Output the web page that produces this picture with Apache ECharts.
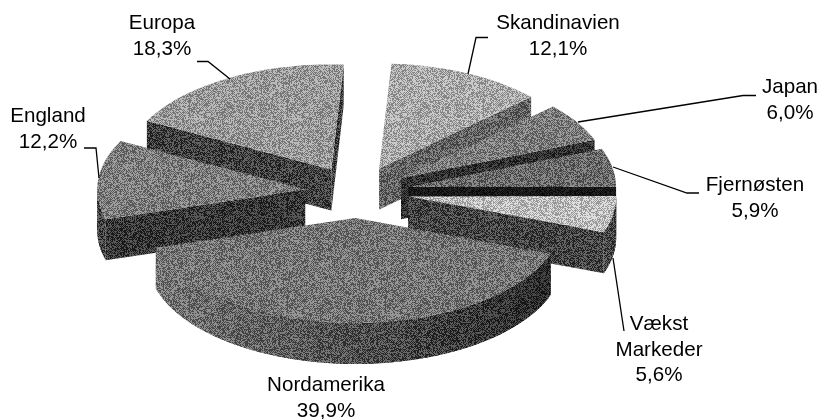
<!DOCTYPE html>
<html>
<head>
<meta charset="utf-8">
<style>
  html, body { margin: 0; padding: 0; background: #fff; }
  #chart { width: 819px; height: 419px; }
</style>
<script src="https://cdn.jsdelivr.net/npm/echarts@6/dist/echarts.min.js"></script>
</head>
<body>
<div id="chart"></div>
<script>
// clockwise from the top of the pie
const categories = ["Skandinavien", "Japan", "Fjernøsten", "Vækst\nMarkeder", "Nordamerika", "England", "Europa"];
const shares = [12.1, 6.0, 5.9, 5.6, 39.9, 12.2, 18.3];

// back to front
const drawOrder = [0, 1, 2, 3, 6, 5, 4];

const topGray = [168, 122, 105, 186, 116, 122, 150];
const sideGray = [100, 48, 24, 68, 0, 55, 62];
const rimGrayLeft = [100, 48, 24, 72, 118, 62, 62];
const rimGrayRight = [100, 48, 24, 72, 44, 62, 62];

const labelPos = [[558, 11], [790, 75], [755, 173], [659, 312], [326, 373], [48, 104], [162, 11]];
const leaders = [
	[[488, 37.5], [476, 37.5], [468, 74]],
	[[578, 122], [743, 95.5], [756, 95.5]],
	[[613, 167], [687, 193], [699, 193]],
	[[613, 258], [624, 331]],
	[],
	[[84, 148], [96, 148], [99, 178]],
	[[197, 61.5], [208, 61.5], [230, 79]],
];

const cx = 357, cy = 192, rx = 208, ry = 105, depth = 41, explode = 52, startAngle = 86.6;
const DEG = Math.PI / 180;

const total = shares.reduce((a, b) => a + b, 0);
let running = startAngle;
const arcs = shares.map(v => {
	const from = running;
	running -= (v / total) * 360;
	return [from, running];
});

// fine grain tile, the original is a dithered greyscale print
const tiles = {};
function halftone(gray) {
	const g = Math.round(gray / 4) * 4;
	if (tiles[g]) return tiles[g];
	const size = 98;
	const amp = Math.min(34, g * 0.55, (255 - g) * 0.55);
	const c = document.createElement("canvas");
	c.width = c.height = size;
	const ctx = c.getContext("2d");
	const img = ctx.createImageData(size, size);
	for (let y = 0; y < size; y++) {
		for (let x = 0; x < size; x++) {
			let h = Math.imul(x + 1, 73856093) ^ Math.imul(y + 1, 19349663);
			h = Math.imul(h ^ (h >>> 15), 1274126177);
			h = Math.imul(h ^ (h >>> 13), 2246822519);
			const t = ((h ^ (h >>> 16)) >>> 0) % 100;
			let sign = (x + y) % 2 ? 1 : -1;
			if (t < 30) sign = -sign;
			const v = g + sign * amp;
			const k = (y * size + x) * 4;
			img.data[k] = img.data[k + 1] = img.data[k + 2] = v;
			img.data[k + 3] = 255;
		}
	}
	ctx.putImageData(img, 0, 0);
	return (tiles[g] = { image: c, repeat: "repeat" });
}

function renderSlice(params, api) {
	const i = api.value(0);
	const [a1, a2] = arcs[i];
	const mid = ((a1 + a2) / 2) * DEG;
	const ox = cx + explode * Math.cos(mid);
	const oy = cy - (explode / 2) * Math.sin(mid);
	const at = a => [ox + rx * Math.cos(a * DEG), oy - ry * Math.sin(a * DEG)];
	const down = p => [p[0], p[1] + depth];
	const kids = [];
	const poly = (points, gray) => kids.push({ type: "polygon", shape: { points }, style: { fill: halftone(gray) } });

	// radial walls that face the viewer
	if (Math.cos(a1 * DEG) < 0) poly([[ox, oy], at(a1), down(at(a1)), down([ox, oy])], sideGray[i]);
	if (Math.cos(a2 * DEG) > 0) poly([[ox, oy], at(a2), down(at(a2)), down([ox, oy])], sideGray[i]);

	// outer rim, only the front half of the ellipse shows
	const steps = Math.ceil((a1 - a2) / 2);
	const angle = k => a1 - ((a1 - a2) * k) / steps;
	const rimLeft = Math.min(...[a1, a2].map(a => at(a)[0]), ox - rx * (a1 > -180 && a2 < -180 ? 1 : 0));
	const rimRight = Math.max(...[a1, a2].map(a => at(a)[0]), ox + rx * (a1 >= 0 && a2 <= 0 ? 1 : 0));
	for (let k = steps - 1; k >= 0; k--) {
		const p = angle(k), q = angle(k + 1);
		const s = (p + q) / 2;
		if (Math.sin(s * DEG) >= 0.02) continue;
		const f = (at(s)[0] - rimLeft) / (rimRight - rimLeft || 1);
		const gray = rimGrayLeft[i] + (rimGrayRight[i] - rimGrayLeft[i]) * f;
		const over = Math.min(k + 2, steps);
		poly([at(p), at(angle(over)), down(at(angle(over))), down(at(p))], gray);
	}

	// top face
	const face = [[ox, oy]];
	for (let k = 0; k <= steps; k++) face.push(at(angle(k)));
	poly(face, topGray[i]);

	return { type: "group", children: kids };
}

const chart = echarts.init(document.getElementById("chart"), null, { renderer: "canvas" });

const texts = categories.map((name, i) => ({
	type: "text",
	x: labelPos[i][0],
	y: labelPos[i][1],
	z: 10,
	style: {
		text: name + "\n" + shares[i].toFixed(1).replace(".", ",") + "%",
		font: '20.6px "Liberation Sans", Arial, sans-serif',
		lineHeight: 25.5,
		fill: "#000",
		align: "center",
		verticalAlign: "top",
	},
}));

const lines = leaders.filter(l => l.length).map(points => ({
	type: "polyline",
	z: 9,
	shape: { points },
	style: { stroke: "#000", lineWidth: 1.3, fill: null },
}));

chart.setOption({
	animation: false,
	backgroundColor: "#fff",
	series: [{
		type: "custom",
		coordinateSystem: "none",
		silent: true,
		data: drawOrder.map(i => [i, shares[i]]),
		renderItem: renderSlice,
	}],
	graphic: { elements: [...lines, ...texts] },
});
</script>
</body>
</html>
